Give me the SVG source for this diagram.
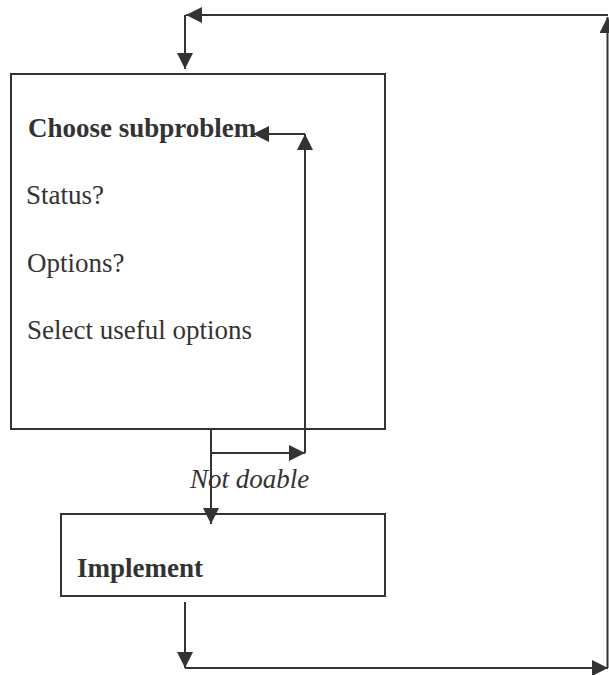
<svg xmlns="http://www.w3.org/2000/svg" width="609" height="675" viewBox="0 0 609 675">
<defs>
<marker id="ah" markerUnits="userSpaceOnUse" markerWidth="17" markerHeight="17" refX="16" refY="8" orient="auto">
<path d="M0,0 L16,8 L0,16 z" fill="#333"/>
</marker>
<style>
.box{fill:#fff;stroke:#333;stroke-width:2}
.t{font-family:"Liberation Serif","Times New Roman",serif;font-size:27px;fill:#333}
.b{font-weight:bold}
.i{font-style:italic}
.c{stroke:#333;stroke-width:2;fill:none;marker-end:url(#ah)}
</style>
</defs>
<rect width="609" height="675" fill="#fff"/>
<g id="choose">
<rect class="box" x="11" y="74" width="374" height="355"/>
<text class="t b" x="28" y="137">Choose subproblem</text>
<text class="t" x="26" y="204">Status?</text>
<text class="t" x="27" y="272">Options?</text>
<text class="t" x="27" y="339">Select useful options</text>
</g>
<g id="implement">
<rect class="box" x="61" y="514" width="324" height="82"/>
<text class="t b" x="77" y="577">Implement</text>
</g>
<g id="connectors">
<text class="t i" x="190" y="488">Not doable</text>
<line class="c" x1="185" y1="602" x2="185" y2="668"/>
<line class="c" x1="185" y1="668" x2="608" y2="668"/>
<line class="c" x1="607.5" y1="668" x2="607.5" y2="17"/>
<line class="c" x1="608" y1="15" x2="186" y2="15"/>
<line class="c" x1="185" y1="15" x2="185" y2="69"/>
<line class="c" x1="211" y1="429" x2="211" y2="524"/>
<line class="c" x1="211" y1="453" x2="305" y2="453"/>
<line class="c" x1="305" y1="453" x2="305" y2="134"/>
<line class="c" x1="305" y1="134" x2="253" y2="134"/>
</g>
</svg>
